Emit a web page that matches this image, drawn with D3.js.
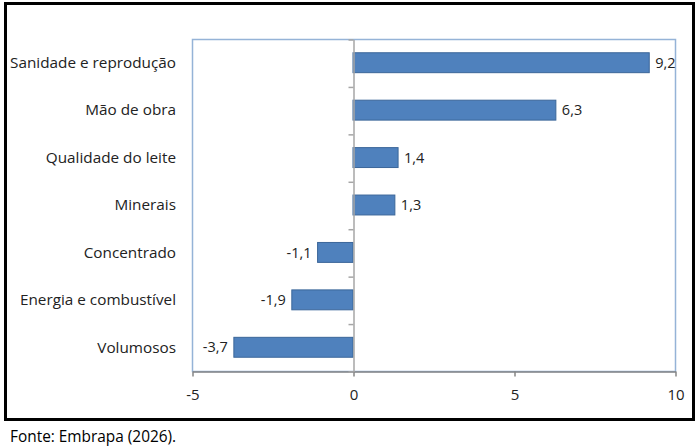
<!DOCTYPE html>
<html>
<head>
<meta charset="utf-8">
<script src="https://cdn.jsdelivr.net/npm/d3@7"></script>
<style>
  body { margin: 0; background: #fff; }
  svg text { font-family: 'Open Sans', sans-serif; }
</style>
</head>
<body>
<div id="chart"></div>
<script>
const categories = ['Sanidade e reprodução', 'Mão de obra', 'Qualidade do leite',
                    'Minerais', 'Concentrado', 'Energia e combustível', 'Volumosos'];
const values = [9.2, 6.3, 1.4, 1.3, -1.1, -1.9, -3.7];
const xTicks = [-5, 0, 5, 10];
const source = 'Fonte: Embrapa (2026).';

const svgWidth = 700,
      svgHeight = 448;

const plot = { left: 192, right: 675, top: 39, bottom: 371 };

const svg = d3.select('#chart')
              .append('svg')
              .attr('width', svgWidth)
              .attr('height', svgHeight);

// outer frame
svg.append('rect')
  .attr('x', 5.5).attr('y', 3.5)
  .attr('width', 688).attr('height', 416)
  .attr('fill', 'none')
  .attr('stroke', '#000')
  .attr('stroke-width', 3);

// plot area border
svg.append('rect')
  .attr('x', plot.left + 0.5).attr('y', plot.top + 0.5)
  .attr('width', plot.right - plot.left).attr('height', plot.bottom - plot.top)
  .attr('fill', 'none')
  .attr('stroke', '#95B3D7')
  .attr('stroke-width', 1.5);

// scales
const x = d3.scaleLinear()
            .domain([-5, 10])
            .range([plot.left, plot.right]);

const y = d3.scaleBand()
            .domain(categories)
            .range([plot.top, plot.bottom]);

const barH = y.bandwidth() * 0.42;

// bars
svg.append('g')
  .selectAll('rect')
  .data(values)
  .enter()
  .append('rect')
  .attr('x', d => x(Math.min(0, d)))
  .attr('y', (d, i) => y(categories[i]) + (y.bandwidth() - barH) / 2)
  .attr('width', d => Math.abs(x(d) - x(0)))
  .attr('height', barH)
  .attr('fill', '#4F81BD')
  .attr('stroke', '#3B6699')
  .attr('stroke-width', 1);

// x axis
const xAxis = d3.axisBottom(x)
                .tickValues(xTicks)
                .tickFormat(d3.format('d'))
                .tickSize(5)
                .tickPadding(13)
                .tickSizeOuter(0);

const gx = svg.append('g')
  .attr('transform', `translate(0.5,${plot.bottom + 0.5})`)
  .call(xAxis);
gx.select('.domain').attr('stroke', '#868686').attr('stroke-width', 1.5);
gx.selectAll('.tick line').attr('stroke', '#868686').attr('stroke-width', 1.5);
gx.selectAll('.tick text')
  .attr('fill', '#222')
  .style('font-size', '15px')
  .text(d => d < 0 ? '-' + Math.abs(d) : d);

// zero line with ticks at category boundaries
const yB = d3.scaleLinear()
             .domain([0, categories.length])
             .range([plot.top, plot.bottom]);
const yAxis = d3.axisLeft(yB)
                .tickValues(d3.range(0, categories.length + 1))
                .tickFormat('')
                .tickSize(5)
                .tickSizeOuter(0);
const gy = svg.append('g')
  .attr('transform', `translate(${x(0) + 0.5},0.5)`)
  .call(yAxis);
gy.select('.domain').attr('stroke', '#A6A6A6').attr('stroke-width', 1.5);
gy.selectAll('.tick line').attr('stroke', '#A6A6A6').attr('stroke-width', 1.5);

// category labels
svg.append('g')
  .selectAll('text')
  .data(categories)
  .enter()
  .append('text')
  .attr('x', 176)
  .attr('y', d => y(d) + y.bandwidth() / 2)
  .attr('dy', '0.35em')
  .attr('text-anchor', 'end')
  .attr('fill', '#222')
  .style('font-size', '15.3px')
  .text(d => d);

// data labels
const fmt = v => d3.format('.1f')(v).replace('.', ',').replace('−', '-');
svg.append('g')
  .selectAll('text')
  .data(values)
  .enter()
  .append('text')
  .attr('x', d => d >= 0 ? x(d) + 6 : x(d) - 6)
  .attr('y', (d, i) => y(categories[i]) + y.bandwidth() / 2)
  .attr('dy', '0.35em')
  .attr('text-anchor', d => d >= 0 ? 'start' : 'end')
  .attr('fill', '#222')
  .style('font-size', '14.5px')
  .text(fmt);

// source note
svg.append('text')
  .attr('x', 10)
  .attr('y', 442)
  .attr('fill', '#000')
  .style('font-size', '15.4px')
  .text(source);
</script>
</body>
</html>
